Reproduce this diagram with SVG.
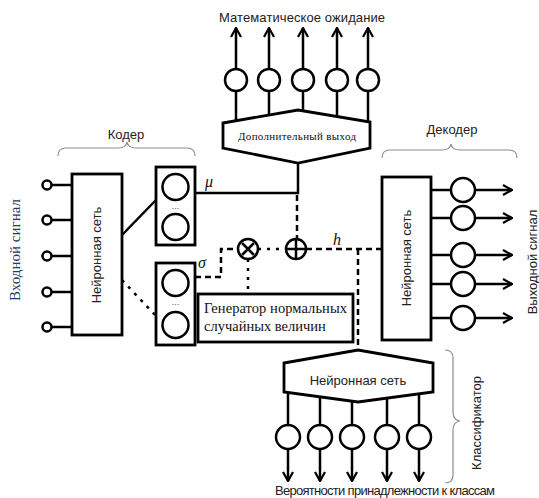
<svg xmlns="http://www.w3.org/2000/svg" width="539" height="498" viewBox="0 0 539 498">
<defs>
<marker id="arr" viewBox="0 0 12 12" refX="11" refY="6" markerWidth="12" markerHeight="12" markerUnits="userSpaceOnUse" orient="auto">
<path d="M2,1 L11,6 L2,11" fill="none" stroke="#000" stroke-width="2.2"/>
</marker>
<style>
.ln{stroke:#000;stroke-width:2.5;fill:none}
.bx{stroke:#000;stroke-width:2.8;fill:#fff}
.nd{stroke:#000;stroke-width:2.5;fill:#fff}
.da{stroke:#000;stroke-width:2.5;fill:none;stroke-dasharray:6 4}
.do{stroke:#000;stroke-width:2.5;fill:none;stroke-dasharray:3 6}
.br{stroke:#8c8c8c;stroke-width:1.2;fill:none}
.sans{font-family:"Liberation Sans",Arial,sans-serif;font-size:13px;fill:#222}
.serif{font-family:"Liberation Serif","Times New Roman",serif;fill:#111}
.it{font-family:"Liberation Serif","Times New Roman",serif;font-style:italic;font-size:16px;fill:#111}
.dots{font-family:"Liberation Sans",Arial,sans-serif;font-size:9px;fill:#555}
</style>
</defs>
<rect width="539" height="498" fill="#fff"/>

<g id="connectors">
<!-- inputs -->
<line class="ln" x1="52" y1="185" x2="72" y2="185"/>
<line class="ln" x1="52" y1="220" x2="72" y2="220"/>
<line class="ln" x1="52" y1="256" x2="72" y2="256"/>
<line class="ln" x1="52" y1="292" x2="72" y2="292"/>
<line class="ln" x1="52" y1="327" x2="72" y2="327"/>
<!-- encoder to mu / sigma -->
<line class="ln" x1="122" y1="235" x2="156" y2="200"/>
<line class="do" x1="122" y1="280" x2="156" y2="316"/>
<!-- mu path to extra output -->
<polyline class="ln" points="195,193 298,193 298,163"/>
<line class="da" x1="297" y1="195" x2="297" y2="239"/>
<!-- sigma path -->
<polyline class="da" points="195,277 221,277 221,249 238,249"/>
<line class="do" x1="258" y1="249" x2="286" y2="249"/>
<line class="do" x1="248" y1="259" x2="248" y2="294"/>
<!-- h -->
<line class="da" x1="306" y1="249" x2="382" y2="249"/>
<line class="da" x1="358" y1="249" x2="358" y2="350"/>
<!-- top outputs -->
<line class="ln" x1="236" y1="121" x2="236" y2="91"/>
<line class="ln" x1="269" y1="115" x2="269" y2="91"/>
<line class="ln" x1="303" y1="111" x2="303" y2="91"/>
<line class="ln" x1="337" y1="116" x2="337" y2="91"/>
<line class="ln" x1="368" y1="122" x2="368" y2="91"/>
<line class="ln" x1="236" y1="69" x2="236" y2="28" marker-end="url(#arr)"/>
<line class="ln" x1="269" y1="69" x2="269" y2="28" marker-end="url(#arr)"/>
<line class="ln" x1="303" y1="69" x2="303" y2="28" marker-end="url(#arr)"/>
<line class="ln" x1="337" y1="69" x2="337" y2="28" marker-end="url(#arr)"/>
<line class="ln" x1="368" y1="69" x2="368" y2="28" marker-end="url(#arr)"/>
<!-- decoder outputs -->
<line class="ln" x1="431" y1="190" x2="451" y2="190"/>
<line class="ln" x1="431" y1="218" x2="451" y2="218"/>
<line class="ln" x1="431" y1="255" x2="451" y2="255"/>
<line class="ln" x1="431" y1="284" x2="451" y2="284"/>
<line class="ln" x1="431" y1="318" x2="451" y2="318"/>
<line class="ln" x1="475" y1="190" x2="512" y2="190" marker-end="url(#arr)"/>
<line class="ln" x1="475" y1="218" x2="512" y2="218" marker-end="url(#arr)"/>
<line class="ln" x1="475" y1="255" x2="512" y2="255" marker-end="url(#arr)"/>
<line class="ln" x1="475" y1="284" x2="512" y2="284" marker-end="url(#arr)"/>
<line class="ln" x1="475" y1="318" x2="512" y2="318" marker-end="url(#arr)"/>
<!-- classifier outputs -->
<line class="ln" x1="288" y1="392" x2="288" y2="425"/>
<line class="ln" x1="320" y1="396" x2="320" y2="425"/>
<line class="ln" x1="352" y1="401" x2="352" y2="425"/>
<line class="ln" x1="387" y1="398" x2="387" y2="425"/>
<line class="ln" x1="419" y1="394" x2="419" y2="425"/>
<line class="ln" x1="288" y1="449" x2="288" y2="481" marker-end="url(#arr)"/>
<line class="ln" x1="320" y1="449" x2="320" y2="481" marker-end="url(#arr)"/>
<line class="ln" x1="352" y1="449" x2="352" y2="481" marker-end="url(#arr)"/>
<line class="ln" x1="387" y1="449" x2="387" y2="481" marker-end="url(#arr)"/>
<line class="ln" x1="419" y1="449" x2="419" y2="481" marker-end="url(#arr)"/>
</g>

<g id="brackets">
<path class="br" d="M58,156 Q58,148 66,148 L118,148 Q126,148 127,142 Q128,148 136,148 L187,148 Q195,148 195,156"/>
<path class="br" d="M382,158 Q382,150 390,150 L442,150 Q450,150 451,144 Q452,150 460,150 L509,150 Q517,150 517,158"/>
<path class="br" d="M445,350 Q453,350 453,358 L453,412 Q453,420 460,421 Q453,422 453,430 L453,475 Q453,483 445,483"/>
<text class="sans" x="126" y="139" text-anchor="middle">Кодер</text>
<text class="sans" x="452" y="134" text-anchor="middle">Декодер</text>
<text class="sans" transform="translate(481,423) rotate(-90)" text-anchor="middle">Классификатор</text>
</g>

<g id="input-signal">
<circle class="nd" cx="47" cy="185" r="4.5" stroke-width="2.2"/>
<circle class="nd" cx="47" cy="220" r="4.5" stroke-width="2.2"/>
<circle class="nd" cx="47" cy="256" r="4.5" stroke-width="2.2"/>
<circle class="nd" cx="47" cy="292" r="4.5" stroke-width="2.2"/>
<circle class="nd" cx="47" cy="327" r="4.5" stroke-width="2.2"/>
<text class="serif" font-size="15" fill="#1f3a6b" style="fill:#1f3a6b" transform="translate(20,250) rotate(-90)" text-anchor="middle">Входной сигнал</text>
</g>

<g id="encoder-net">
<rect class="bx" x="72" y="174" width="50" height="161"/>
<text class="sans" transform="translate(101,255) rotate(-90)" text-anchor="middle">Нейронная сеть</text>
</g>

<g id="mu-layer">
<rect class="bx" x="156" y="167" width="39" height="78"/>
<circle class="nd" cx="175.5" cy="187" r="13"/>
<circle class="nd" cx="175.5" cy="227" r="13"/>
<text class="dots" x="175.5" y="209" text-anchor="middle">...</text>
<text class="it" x="205" y="187">μ</text>
</g>

<g id="sigma-layer">
<rect class="bx" x="156" y="263" width="39" height="82"/>
<circle class="nd" cx="175.5" cy="283" r="13"/>
<circle class="nd" cx="175.5" cy="325" r="13"/>
<text class="dots" x="175.5" y="305" text-anchor="middle">...</text>
<text class="it" x="198" y="268">σ</text>
</g>

<g id="multiply">
<circle class="nd" cx="248" cy="249" r="10"/>
<path class="ln" d="M242,243 L254,255 M254,243 L242,255" stroke-width="2.2"/>
</g>

<g id="add">
<circle class="nd" cx="296" cy="249" r="10"/>
<path class="ln" d="M296,240 L296,258 M287,249 L305,249" stroke-width="2.2"/>
<text class="it" x="333" y="245">h</text>
</g>

<g id="generator">
<rect class="bx" x="198" y="294" width="155" height="48"/>
<text class="serif" font-size="14.5" x="204" y="313" textLength="143">Генератор нормальных</text>
<text class="serif" font-size="14.5" x="204" y="331">случайных величин</text>
</g>

<g id="extra-output">
<polygon class="bx" points="223,123 298,110 370,122 370,148 298,163 223,148"/>
<text class="serif" font-size="11" x="297" y="140" text-anchor="middle" textLength="118">Дополнительный выход</text>
<circle class="nd" cx="236" cy="80" r="11"/>
<circle class="nd" cx="269" cy="80" r="11"/>
<circle class="nd" cx="303" cy="80" r="11"/>
<circle class="nd" cx="337" cy="80" r="11"/>
<circle class="nd" cx="368" cy="80" r="11"/>
<text class="sans" x="302" y="22" text-anchor="middle" textLength="166">Математическое ожидание</text>
</g>

<g id="decoder-net">
<rect class="bx" x="382" y="177" width="49" height="163"/>
<text class="sans" transform="translate(411,258) rotate(-90)" text-anchor="middle">Нейронная сеть</text>
<circle class="nd" cx="463" cy="190" r="12"/>
<circle class="nd" cx="463" cy="218" r="12"/>
<circle class="nd" cx="463" cy="255" r="12"/>
<circle class="nd" cx="463" cy="284" r="12"/>
<circle class="nd" cx="463" cy="318" r="12"/>
<text class="sans" transform="translate(537,262) rotate(-90)" text-anchor="middle">Выходной сигнал</text>
</g>

<g id="classifier-net">
<polygon class="bx" points="284,363 358,350 433,363 433,392 358,402 284,392"/>
<text class="sans" x="358" y="385" text-anchor="middle">Нейронная сеть</text>
<circle class="nd" cx="288" cy="437" r="12"/>
<circle class="nd" cx="320" cy="437" r="12"/>
<circle class="nd" cx="352" cy="437" r="12"/>
<circle class="nd" cx="387" cy="437" r="12"/>
<circle class="nd" cx="419" cy="437" r="12"/>
<text class="sans" x="385" y="495" text-anchor="middle" textLength="220">Вероятности принадлежности к классам</text>
</g>
</svg>
